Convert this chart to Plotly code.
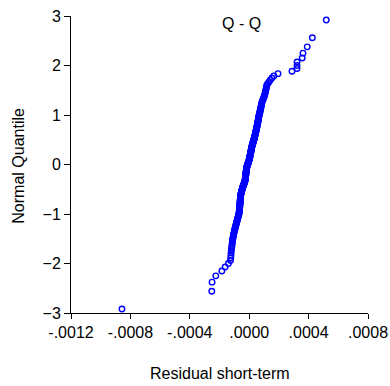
import plotly.graph_objects as go
from statistics import NormalDist

# Sorted residuals (units of 1e-6)
residual_micro = [
    -857, -252, -250, -225, -184, -162, -140, -126,
    -124, -123, -122, -121, -119, -118, -116, -115,
    -114, -113, -111, -110, -108,
    -106, -105, -103, -101, -100, -98, -96, -95, -93, -91, -90, -88, -86, -85, -83,
    -82, -80, -79, -77, -76, -75, -73, -72, -71, -69, -68,
    -68, -67, -67, -66, -66, -65, -65, -64, -64,
    -64, -63, -63, -63, -62, -62, -62, -61, -61, -61, -60, -60, -60, -60, -59, -59, -59, -59, -58, -58, -58,
    -57, -56, -55, -54, -53, -52, -51, -50, -50, -49,
    -48, -47, -46, -45, -44, -43, -42, -41, -40, -38, -37, -36, -35, -34, -33, -32, -31, -30, -29, -28, -27,
    -27, -26, -26, -26, -25, -25, -25, -24, -24, -24, -23, -23, -23, -22, -22,
    -22, -21, -21, -20, -20, -20, -19, -19, -19, -18, -18, -17, -17, -16, -16,
    -15, -14, -13, -12, -11, -10, -9, -8, -7, -6, -5, -4, -3, -2, -1, 0,
    1, 1, 2, 2, 3, 4, 4, 5, 5, 6, 7, 7, 8, 8, 9, 10, 10, 11, 11, 12, 13, 13, 14, 14, 15, 16, 16, 17, 17, 18,
    19, 20, 21, 22, 23, 24, 25, 25, 26, 27, 28, 29, 30, 31, 32, 33, 34, 35, 35, 36, 37, 38, 39, 40,
    41, 42, 42, 43, 44, 45, 46, 46, 47, 48, 49, 50, 51, 51, 52, 53, 54, 55, 55, 56, 57, 58, 59, 60, 60, 61, 62, 63, 64, 64, 65, 66, 67,
    68, 69, 71, 72, 73, 74, 75, 77, 78, 79, 80, 81, 83, 84, 85, 86,
    89, 92, 95, 98, 100, 103,
    105, 107, 109, 111, 113, 115, 117, 119,
    126, 134, 142,
    153, 166, 194,
    288, 322, 322, 322, 357, 362, 391, 425, 519,
]

x_tickvals = [-0.0012, -0.0008, -0.0004, 0.0, 0.0004, 0.0008]
x_ticktext = ["-.0012", "-.0008", "-.0004", ".0000", ".0004", ".0008"]
y_tickvals = [-3, -2, -1, 0, 1, 2, 3]

residual = [v * 1e-6 for v in residual_micro]
n = len(residual)
nd = NormalDist()
quantile = [nd.inv_cdf((i + 0.5) / n) for i in range(n)]

FONT = "Liberation Sans, Arial, sans-serif"

fig = go.Figure()
fig.add_trace(go.Scatter(
    x=residual, y=quantile, mode="markers",
    marker=dict(symbol="circle-open", size=5.5, color="#0000FF",
                line=dict(width=1.4, color="#0000FF")),
    showlegend=False, hoverinfo="skip",
))

fig.update_layout(
    width=390, height=386,
    margin=dict(l=71, r=22, t=16, b=73, autoexpand=False),
    paper_bgcolor="white", plot_bgcolor="white",
    font=dict(family=FONT, size=16, color="black"),
    hovermode=False,
    xaxis=dict(range=[-0.0012, 0.0008], tickvals=x_tickvals, ticktext=x_ticktext,
               showgrid=False, zeroline=False, showline=True, linecolor="black",
               linewidth=1, ticks="outside", ticklen=5, tickcolor="black",
               tickfont=dict(size=16), automargin=False,
               ticklabeloverflow="allow"),
    yaxis=dict(range=[-3, 3], tickvals=y_tickvals,
               showgrid=False, zeroline=False, showline=True, linecolor="black",
               linewidth=1, ticks="outside", ticklen=6, tickcolor="black",
               tickfont=dict(size=16), automargin=False,
               ticklabeloverflow="allow"),
    annotations=[
        dict(text="Q - Q", xref="paper", yref="paper", x=0.573, y=0.974,
             xanchor="center", yanchor="middle", showarrow=False,
             font=dict(size=16)),
        dict(text="Residual short-term", xref="paper", yref="paper", x=0.5,
             y=-0.203, xanchor="center", yanchor="middle", showarrow=False,
             font=dict(size=16)),
        dict(text="Normal Quantile", xref="paper", yref="paper", x=-0.176,
             y=0.495, xanchor="center", yanchor="middle", textangle=-90,
             showarrow=False, font=dict(size=16)),
    ],
)

fig.write_html(
    "out.html",
    config={"displayModeBar": False, "staticPlot": True},
    post_script="document.body.style.margin='0';document.body.style.overflow='hidden';",
)
